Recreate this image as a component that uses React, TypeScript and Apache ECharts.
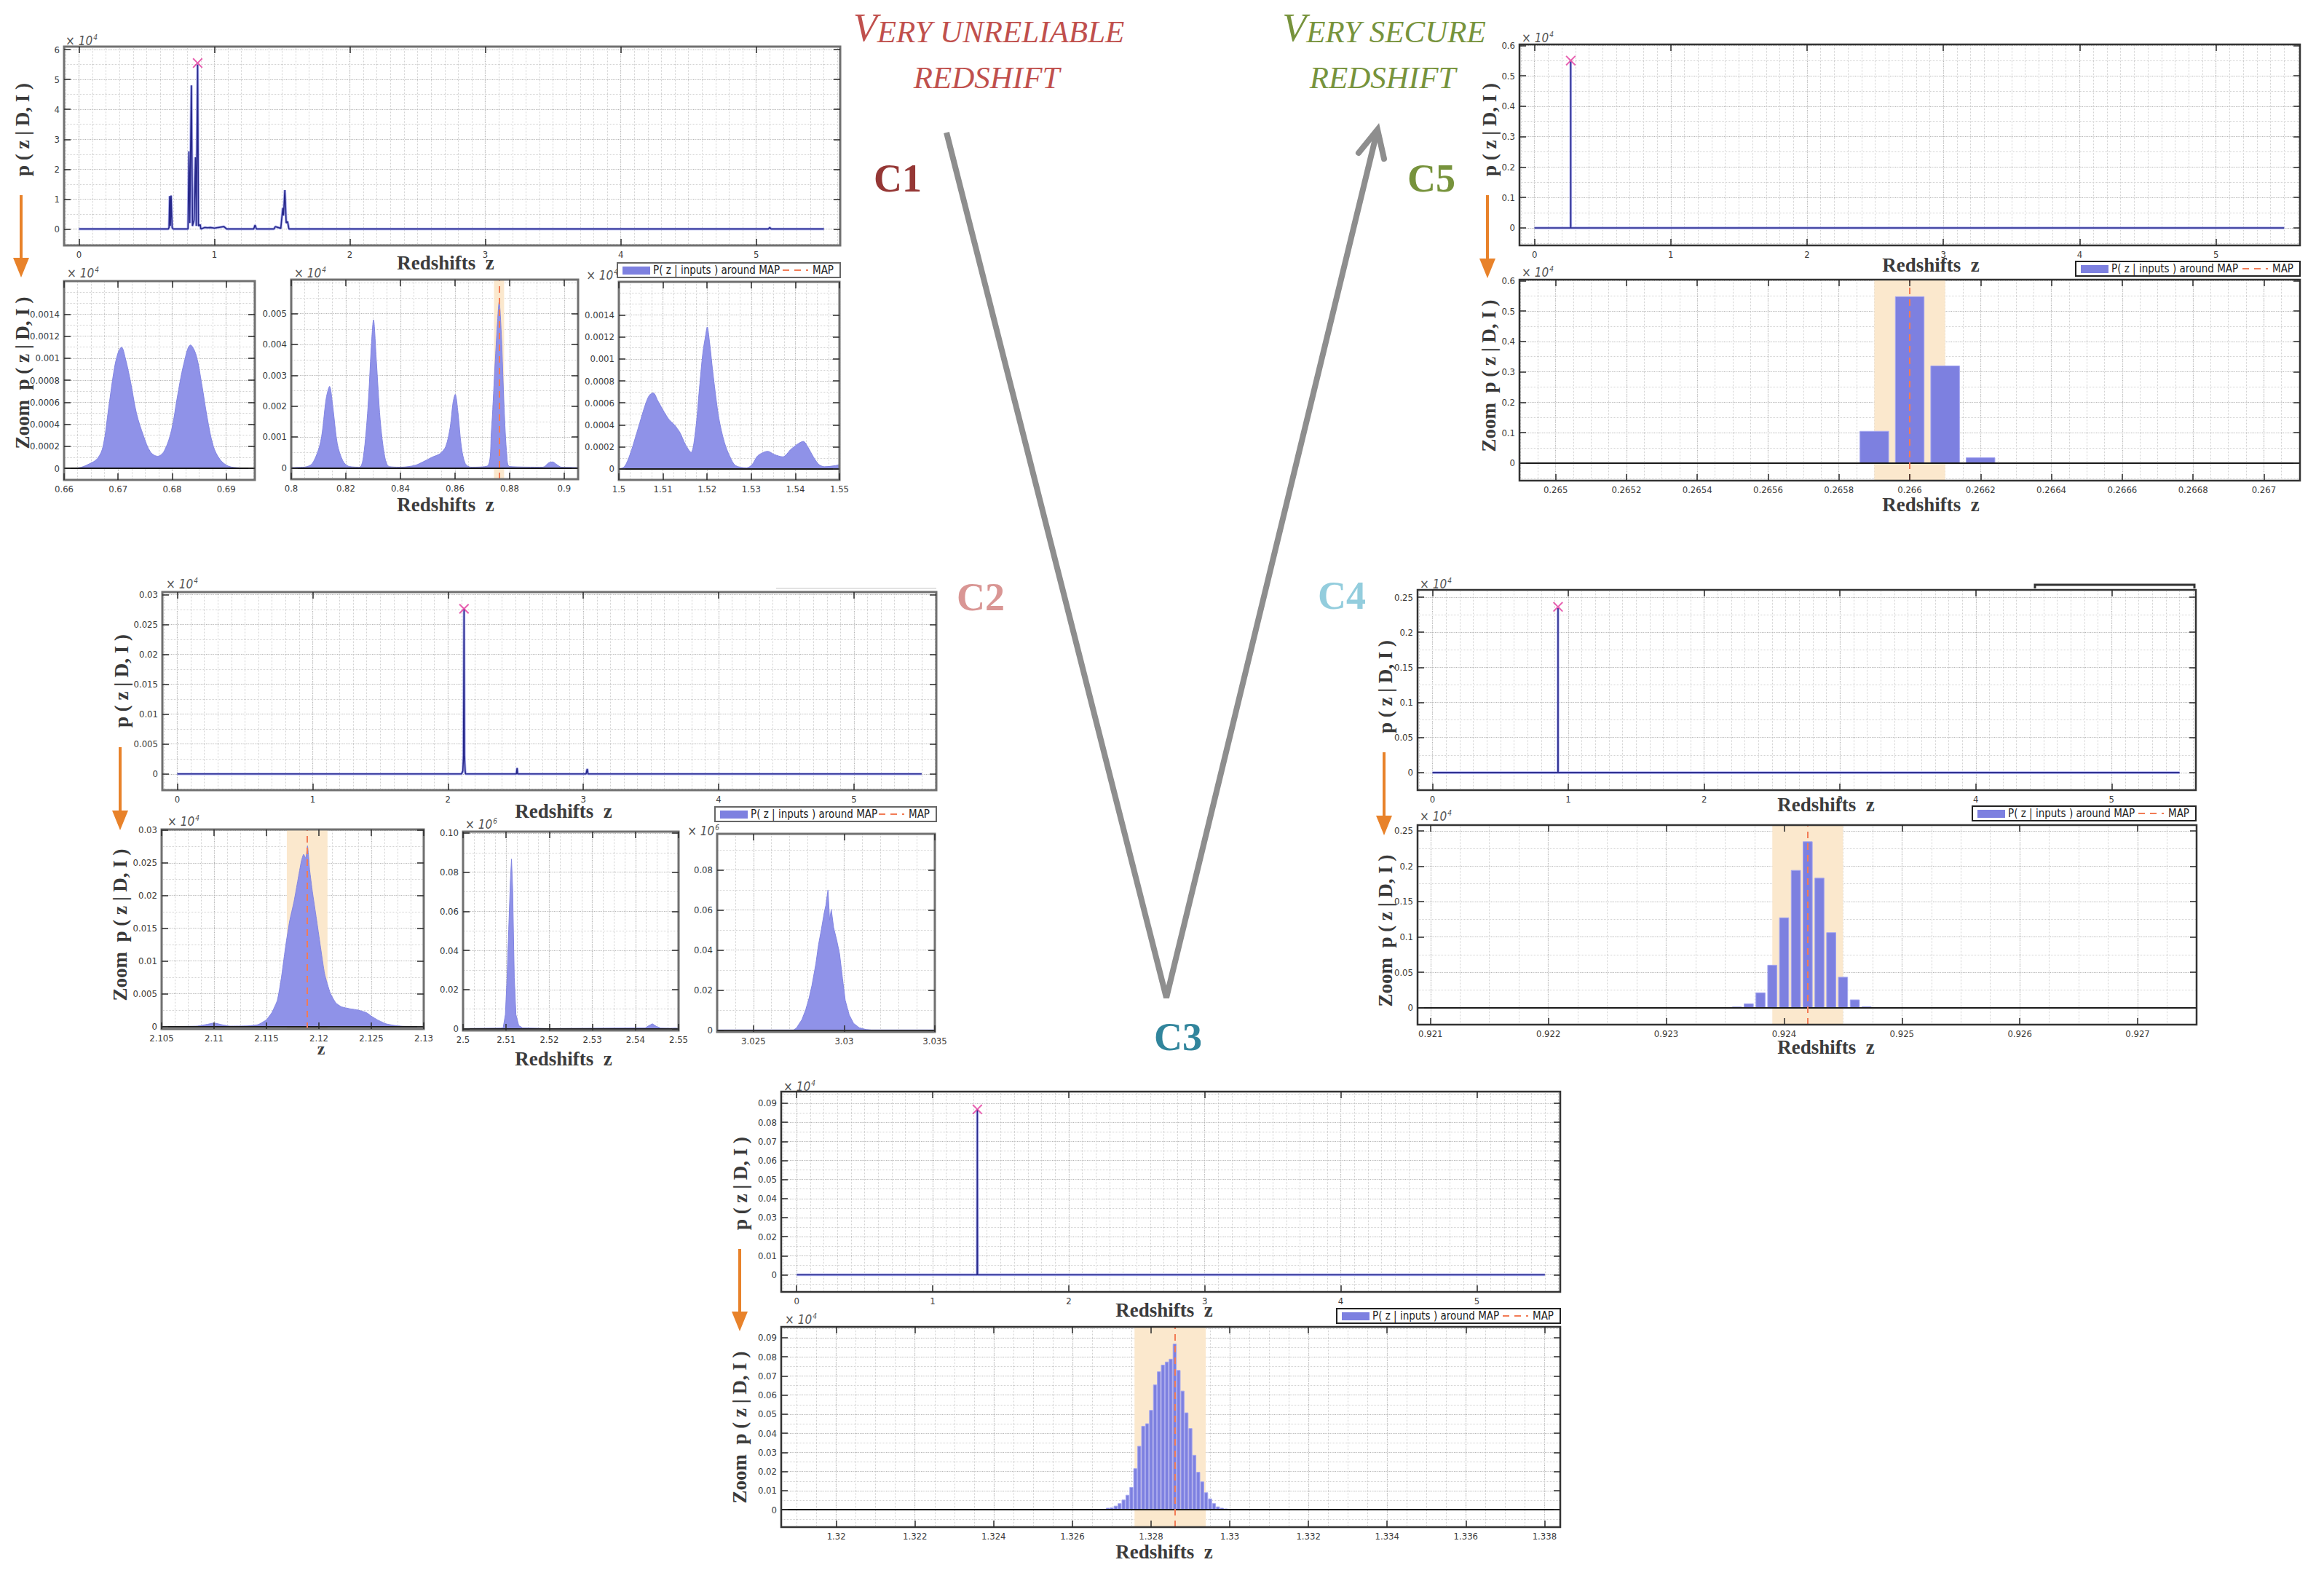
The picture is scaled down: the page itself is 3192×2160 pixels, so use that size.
import React, { useEffect, useRef } from 'react';
import * as echarts from 'echarts';

const TICK_FONT = "'Liberation Sans Narrow', 'DejaVu Sans Condensed', 'Roboto Condensed', 'Liberation Sans', sans-serif";
const SERIF = "'Liberation Serif', 'DejaVu Serif', serif";
const NAVY = '#27288a';
const UNDER = '#adb0f0';
const AREA = '#8f92e8';
const BAR = '#7d80e0';
const BAND = '#fbe8cd';
const MAPC = '#f27b55';
const ORANGE = '#e8822a';
const X_MARK = 'path://M1,0L5,4L9,0L10,1L6,5L10,9L9,10L5,6L1,10L0,9L4,5L0,1Z';

// ---------------- data (p in units of 10^4 unless noted) ----------------
const mainTicks = [0, 1, 2, 3, 4, 5];

// C1
const c1MainZ = [0, 0.66, 0.665, 0.67, 0.675, 0.68, 0.688, 0.695, 0.805, 0.812, 0.818, 0.83, 0.838, 0.85, 0.86, 0.866, 0.876, 0.882, 0.895, 0.9, 0.93, 0.95, 0.97, 1.0, 1.07, 1.09, 1.29, 1.3, 1.31, 1.44, 1.45, 1.47, 1.49, 1.505, 1.51, 1.52, 1.53, 1.54, 1.55, 5.09, 5.1, 5.11, 5.5];
const c1MainP = [0, 0, 0.05, 1.1, 0.1, 1.12, 0.05, 0, 0, 2.6, 0.2, 4.8, 0.1, 0.3, 2.4, 0.1, 5.5, 0.1, 0.15, 0, 0.05, 0.04, 0.05, 0.03, 0.08, 0, 0, 0.13, 0, 0, 0.08, 0.05, 0.02, 0.7, 0.45, 1.3, 0.2, 0.25, 0, 0, 0.05, 0, 0];
const c1Map = [0.876, 5.55];
const c1MainYTicks = [0, 1, 2, 3, 4, 5, 6];

const c1aZ = [0.66, 0.66258, 0.66464, 0.66619, 0.66722, 0.66825, 0.66928, 0.67, 0.67062, 0.67134, 0.67237, 0.6734, 0.67474, 0.67598, 0.67732, 0.67856, 0.6799, 0.68093, 0.68216, 0.6834, 0.68443, 0.68546, 0.68649, 0.68763, 0.68887, 0.69041, 0.69247, 0.6953];
const c1aP = [0.000003, 0.000005, 0.00004, 0.00009, 0.0002, 0.00055, 0.0009, 0.00105, 0.0011, 0.001, 0.00077, 0.0005, 0.00029, 0.00015, 0.00011, 0.00016, 0.00035, 0.00064, 0.00095, 0.00112, 0.00103, 0.00077, 0.00046, 0.0002, 0.00008, 0.00002, 0.000005, 0.000002];
const c1aXTicks = [0.66, 0.67, 0.68, 0.69];
const c1acYTicks = [0, 0.0002, 0.0004, 0.0006, 0.0008, 0.001, 0.0012, 0.0014];

const c1bZ = [0.8, 0.80468, 0.80774, 0.81079, 0.81283, 0.81405, 0.81527, 0.8169, 0.81894, 0.82098, 0.82505, 0.82648, 0.82811, 0.82933, 0.83014, 0.83116, 0.83259, 0.83422, 0.83585, 0.84033, 0.84542, 0.84847, 0.85153, 0.85458, 0.85662, 0.85825, 0.85927, 0.86008, 0.8611, 0.86232, 0.86375, 0.86578, 0.87189, 0.87332, 0.87454, 0.87556, 0.87617, 0.87699, 0.878, 0.87902, 0.88004, 0.89226, 0.8943, 0.89572, 0.89735, 0.89898, 0.90509];
const c1bP = [0.00001, 0.00002, 0.00014, 0.00085, 0.00226, 0.00264, 0.00195, 0.00077, 0.00022, 0.00005, 0.00002, 0.00038, 0.00195, 0.00392, 0.0048, 0.00352, 0.00156, 0.00038, 0.00004, 0.00002, 0.00008, 0.0002, 0.00034, 0.00046, 0.00069, 0.00132, 0.00211, 0.00238, 0.00179, 0.00069, 0.00014, 0.00002, 0.00006, 0.00116, 0.00313, 0.0047, 0.00537, 0.00431, 0.00195, 0.00038, 0.00004, 0.00002, 0.00016, 0.00019, 0.0001, 0.00002, 0.00001];
const c1bXTicks = [0.8, 0.82, 0.84, 0.86, 0.88, 0.9];
const c1bYTicks = [0, 0.001, 0.002, 0.003, 0.004, 0.005];
const c1bBand = [0.8743, 0.878];
const c1bMap = 0.8762;

const c1cZ = [1.5, 1.50126, 1.50252, 1.50378, 1.50504, 1.50605, 1.50693, 1.50781, 1.50882, 1.51008, 1.51134, 1.5126, 1.51385, 1.51511, 1.51637, 1.51738, 1.51826, 1.51902, 1.51965, 1.52003, 1.52053, 1.52141, 1.52267, 1.52393, 1.52519, 1.52645, 1.52897, 1.53023, 1.53149, 1.53375, 1.53526, 1.53715, 1.53904, 1.54068, 1.54181, 1.54282, 1.54408, 1.54534, 1.5466, 1.54912, 1.55];
const c1cP = [0, 0.00002, 0.00013, 0.00029, 0.00046, 0.00059, 0.00067, 0.00069, 0.00062, 0.00053, 0.00045, 0.0004, 0.00033, 0.00022, 0.00015, 0.00035, 0.00073, 0.00105, 0.00121, 0.00129, 0.00116, 0.00084, 0.00046, 0.00024, 0.00011, 0.00003, 0.00001, 0.00004, 0.00012, 0.00016, 0.00013, 0.00011, 0.00018, 0.00023, 0.00025, 0.0002, 0.00011, 0.00004, 0.00002, 0.00003, 0.00004];
const c1cXTicks = [1.5, 1.51, 1.52, 1.53, 1.54, 1.55];

// C5
const c5MainZ = [0, 0.2657, 0.2659, 0.266, 0.2661, 0.2662, 0.2664, 5.5];
const c5MainP = [0, 0, 0.105, 0.547, 0.32, 0.018, 0, 0];
const c5Map = [0.266, 0.55];
const c5YTicks = [0, 0.1, 0.2, 0.3, 0.4, 0.5, 0.6];
const c5zZ = [0.2658, 0.2659, 0.266, 0.2661, 0.2662];
const c5zP = [0.0008, 0.1046, 0.547, 0.3195, 0.0176];
const c5zXTicks = [0.265, 0.2652, 0.2654, 0.2656, 0.2658, 0.266, 0.2662, 0.2664, 0.2666, 0.2668, 0.267];
const c5zBand = [0.2659, 0.2661];
const c5zMap = 0.266;

// C2
const c2MainZ = [0, 2.1, 2.11, 2.115, 2.119, 2.122, 2.127, 2.13, 2.505, 2.511, 2.515, 3.02, 3.029, 3.035, 5.5];
const c2MainP = [0, 0, 0.0005, 0.003, 0.0276, 0.003, 0.0005, 0, 0, 0.001, 0, 0, 0.00085, 0, 0];
const c2Map = [2.119, 0.0276];
const c2YTicks = [0, 0.005, 0.01, 0.015, 0.02, 0.025, 0.03];
const c2aZ = [2.105, 2.10834, 2.10941, 2.10999, 2.11073, 2.11153, 2.11312, 2.11418, 2.11498, 2.11551, 2.11604, 2.11641, 2.11684, 2.11721, 2.11763, 2.118, 2.11832, 2.11854, 2.11875, 2.11891, 2.11912, 2.11938, 2.11976, 2.12013, 2.12055, 2.12108, 2.12161, 2.12214, 2.12294, 2.12374, 2.12453, 2.12506, 2.12559, 2.12639, 2.12719, 2.12798, 2.13];
const c2aP = [0, 0.00004, 0.00033, 0.00052, 0.00026, 0.00004, 0.00007, 0.00026, 0.001, 0.0021, 0.004, 0.0073, 0.0124, 0.0161, 0.0191, 0.0224, 0.0252, 0.0263, 0.0257, 0.0276, 0.0239, 0.0206, 0.0165, 0.0124, 0.008, 0.0051, 0.0036, 0.003, 0.0027, 0.0025, 0.0021, 0.0015, 0.001, 0.0004, 0.00015, 0.00002, 0];
const c2aXTicks = [2.105, 2.11, 2.115, 2.12, 2.125, 2.13];
const c2aBand = [2.11694, 2.12082];
const c2aMap = 2.1189;
// (units of 10^6)
const c2bZ = [2.5, 2.50866, 2.5093, 2.50982, 2.51021, 2.51059, 2.51098, 2.51124, 2.5115, 2.51189, 2.51227, 2.51292, 2.51382, 2.51964, 2.54225, 2.54315, 2.54393, 2.54483, 2.54587, 2.54806, 2.54935, 2.55];
const c2bP = [0.0001, 0.0003, 0.0004, 0.0072, 0.026, 0.0507, 0.0755, 0.0867, 0.0718, 0.026, 0.0072, 0.0016, 0.0004, 0.0001, 0.0004, 0.0016, 0.0025, 0.0012, 0.0003, 0.0002, 0.0003, 0.0002];
const c2bXTicks = [2.5, 2.51, 2.52, 2.53, 2.54, 2.55];
const c2bYTicks = [0, 0.02, 0.04, 0.06, 0.08, 0.1];
const c2bYLabels = ['0', '0.02', '0.04', '0.06', '0.08', '0.10'];
const c2cZ = [3.023, 3.02721, 3.02736, 3.02767, 3.02788, 3.02807, 3.02822, 3.02844, 3.02859, 3.02874, 3.0289, 3.02899, 3.02911, 3.0292, 3.02929, 3.02942, 3.0296, 3.02975, 3.02991, 3.03006, 3.03028, 3.03052, 3.03083, 3.0312, 3.0315, 3.035];
const c2cP = [0, 0, 0.0008, 0.0051, 0.01, 0.016, 0.022, 0.033, 0.0427, 0.05, 0.0585, 0.0622, 0.07, 0.0549, 0.0603, 0.0512, 0.0445, 0.0379, 0.0257, 0.0148, 0.0075, 0.0033, 0.0011, 0.0002, 0, 0];
const c2cXTicks = [3.025, 3.03, 3.035];
const c2cYTicks = [0, 0.02, 0.04, 0.06, 0.08];

// C4
const c4MainZ = [0, 0.9235, 0.924, 0.9242, 0.9244, 0.9248, 5.5];
const c4MainP = [0, 0, 0.128, 0.2345, 0.107, 0, 0];
const c4Map = [0.9242, 0.2362];
const c4YTicks = [0, 0.05, 0.1, 0.15, 0.2, 0.25];
const c4zZ = [0.9236, 0.9237, 0.9238, 0.9239, 0.924, 0.9241, 0.9242, 0.9243, 0.9244, 0.9245, 0.9246, 0.9247];
const c4zP = [0.001, 0.0055, 0.021, 0.06, 0.127, 0.194, 0.2345, 0.183, 0.106, 0.043, 0.011, 0.0014];
const c4zXTicks = [0.921, 0.922, 0.923, 0.924, 0.925, 0.926, 0.927];
const c4zBand = [0.9239, 0.9245];
const c4zMap = 0.9242;

// C3
const c3MainZ = [0, 1.3268, 1.328, 1.3286, 1.329, 1.3301, 5.5];
const c3MainP = [0, 0, 0.052, 0.0867, 0.0507, 0, 0];
const c3Map = [1.3286, 0.0868];
const c3YTicks = [0, 0.01, 0.02, 0.03, 0.04, 0.05, 0.06, 0.07, 0.08, 0.09];
const c3zZ = [1.3269, 1.327, 1.3271, 1.3272, 1.3273, 1.3274, 1.3275, 1.3276, 1.3277, 1.3278, 1.3279, 1.328, 1.3281, 1.3282, 1.3283, 1.3284, 1.3285, 1.3286, 1.3287, 1.3288, 1.3289, 1.329, 1.3291, 1.3292, 1.3293, 1.3294, 1.3295, 1.3296, 1.3297, 1.3298, 1.3299, 1.33];
const c3zP = [0.0008, 0.001, 0.0019, 0.0032, 0.0051, 0.0076, 0.0117, 0.0215, 0.0332, 0.0437, 0.045, 0.052, 0.0653, 0.0722, 0.0757, 0.0773, 0.0788, 0.0867, 0.0729, 0.0621, 0.0507, 0.0425, 0.0285, 0.0196, 0.0146, 0.0089, 0.0057, 0.0032, 0.0015, 0.0008, 0.0004, 0.0001];
const c3zXTicks = [1.32, 1.322, 1.324, 1.326, 1.328, 1.33, 1.332, 1.334, 1.336, 1.338];
const c3zBand = [1.32758, 1.32939];
const c3zMap = 1.3286;

// ---------------- panel layout ----------------
type Panel = {
  box: number[]; xr: number[]; yr: number[]; xt: number[]; yt: number[]; xm: number; ym: number;
  yl?: string[]; frame: string; fw: number; kind: 'main' | 'area' | 'bars';
  z: number[]; p: number[]; bin?: number; smooth?: number; mark?: number[]; band?: number[]; map?: number;
};
const F1 = '#707070';
const F2 = '#333333';
const PANELS: Panel[] = [
  { box: [88, 64, 1154, 337], xr: [-0.11, 5.62], yr: [-0.55, 6.1], xt: mainTicks, yt: c1MainYTicks, xm: 0.1, ym: 0.5, frame: F1, fw: 3, kind: 'main', z: c1MainZ, p: c1MainP, mark: c1Map },
  { box: [88, 386, 350, 659], xr: [0.66, 0.6953], yr: [-0.000105, 0.0017], xt: c1aXTicks, yt: c1acYTicks, xm: 0.0025, ym: 0.0001, frame: F1, fw: 3, kind: 'area', z: c1aZ, p: c1aP, smooth: 0.35 },
  { box: [400, 384, 794, 658], xr: [0.8, 0.9051], yr: [-0.00037, 0.0061], xt: c1bXTicks, yt: c1bYTicks, xm: 0.005, ym: 0.0005, frame: F1, fw: 3, kind: 'area', z: c1bZ, p: c1bP, smooth: 0.3, band: c1bBand, map: c1bMap },
  { box: [850, 387, 1153, 659], xr: [1.5, 1.55], yr: [-0.0001, 0.0017], xt: c1cXTicks, yt: c1acYTicks, xm: 0.0025, ym: 0.0001, frame: F1, fw: 3, kind: 'area', z: c1cZ, p: c1cP, smooth: 0.3 },
  { box: [2087, 61, 3159, 337], xr: [-0.11, 5.616], yr: [-0.0575, 0.603], xt: mainTicks, yt: c5YTicks, xm: 0.1, ym: 0.05, frame: F2, fw: 2.5, kind: 'main', z: c5MainZ, p: c5MainP, mark: c5Map },
  { box: [2087, 384, 3159, 660], xr: [0.264898, 0.267102], yr: [-0.0575, 0.603], xt: c5zXTicks, yt: c5YTicks, xm: 0.00005, ym: 0.05, frame: F2, fw: 2.5, kind: 'bars', z: c5zZ, p: c5zP, bin: 0.000081, band: c5zBand, map: c5zMap },
  { box: [223, 813, 1286, 1085], xr: [-0.11, 5.608], yr: [-0.0027, 0.0304], xt: mainTicks, yt: c2YTicks, xm: 0.1, ym: 0.0025, frame: F1, fw: 3, kind: 'main', z: c2MainZ, p: c2MainP, mark: c2Map },
  { box: [222, 1139, 582, 1413], xr: [2.105, 2.13], yr: [-0.0004, 0.0301], xt: c2aXTicks, yt: c2YTicks, xm: 0.00125, ym: 0.0025, frame: F1, fw: 3, kind: 'area', z: c2aZ, p: c2aP, smooth: 0.15, band: c2aBand, map: c2aMap },
  { box: [636, 1142, 932, 1415], xr: [2.5, 2.55], yr: [-0.0009, 0.1007], xt: c2bXTicks, yt: c2bYTicks, yl: c2bYLabels, xm: 0.0025, ym: 0.01, frame: F1, fw: 3, kind: 'area', z: c2bZ, p: c2bP },
  { box: [985, 1145, 1284, 1417], xr: [3.023, 3.035], yr: [-0.001, 0.098], xt: c2cXTicks, yt: c2cYTicks, xm: 0.001, ym: 0.01, frame: F1, fw: 3, kind: 'area', z: c2cZ, p: c2cP },
  { box: [1947, 810, 3016, 1085], xr: [-0.11, 5.62], yr: [-0.025, 0.2604], xt: mainTicks, yt: c4YTicks, xm: 0.1, ym: 0.025, frame: F2, fw: 2.5, kind: 'main', z: c4MainZ, p: c4MainP, mark: c4Map },
  { box: [1947, 1133, 3017, 1407], xr: [0.92089, 0.9275], yr: [-0.024, 0.258], xt: c4zXTicks, yt: c4YTicks, xm: 0.00025, ym: 0.025, frame: F2, fw: 2.5, kind: 'bars', z: c4zZ, p: c4zP, bin: 0.000078, band: c4zBand, map: c4zMap },
  { box: [1073, 1499, 2143, 1774], xr: [-0.113, 5.613], yr: [-0.009, 0.0961], xt: mainTicks, yt: c3YTicks, xm: 0.1, ym: 0.005, frame: F2, fw: 2.5, kind: 'main', z: c3MainZ, p: c3MainP, mark: c3Map },
  { box: [1073, 1822, 2143, 2097], xr: [1.3186, 1.3384], yr: [-0.0091, 0.0957], xt: c3zXTicks, yt: c3YTicks, xm: 0.0005, ym: 0.005, frame: F2, fw: 2.5, kind: 'bars', z: c3zZ, p: c3zP, bin: 0.00008, band: c3zBand, map: c3zMap },
];

function fmt(v: number) { return String(parseFloat(Number(v).toPrecision(10))); }
function labelOf(v: number, vals: number[], labels?: string[]) {
  if (labels) {
    const k = vals.findIndex((t) => Math.abs(t - v) < 1e-9);
    if (k >= 0) return labels[k];
  }
  return fmt(v);
}
function gridSteps(r: number[], step: number) {
  const out: number[] = [];
  const s = Math.ceil(r[0] / step - 1e-6);
  const e = Math.floor(r[1] / step + 1e-6);
  for (let k = s; k <= e; k++) out.push(parseFloat((k * step).toPrecision(12)));
  return out;
}

const MAJOR = { type: 'dotted', color: '#b6b6b6', width: 1.2 };
const MINOR = { type: 'dotted', color: '#d2d2d2', width: 1 };
const ML = { silent: true, precision: 12, symbol: ['none', 'none'], label: { show: false }, emphasis: { disabled: true } };

function buildOption() {
  const grid: any[] = [];
  const xAxis: any[] = [];
  const yAxis: any[] = [];
  const series: any[] = [];
  PANELS.forEach((p, i) => {
    const [l, t, r, b] = p.box;
    grid.push({ left: l, top: t, width: r - l, height: b - t, show: true, borderColor: p.frame, borderWidth: p.fw, backgroundColor: 'transparent', z: 10 });
    const tick = (vals: number[]) => ({ show: true, inside: true, length: 9, customValues: vals, lineStyle: { color: '#2a2a2a', width: 1.5 } });
    const lab = (vals: number[], labels: string[] | undefined, show: boolean) => ({
      show, customValues: vals, formatter: (v: number) => labelOf(v, vals, labels),
      color: '#3a3a3a', fontSize: 13, fontFamily: TICK_FONT, margin: 6,
    });
    const base = { type: 'value', gridIndex: i, z: 11, axisLine: { show: false, onZero: false }, splitLine: { show: false }, minorTick: { show: false } };
    xAxis.push({ ...base, position: 'bottom', min: p.xr[0], max: p.xr[1], axisTick: tick(p.xt), axisLabel: lab(p.xt, undefined, true) });
    xAxis.push({ ...base, position: 'top', min: p.xr[0], max: p.xr[1], axisTick: tick(p.xt), axisLabel: { show: false } });
    yAxis.push({ ...base, position: 'left', min: p.yr[0], max: p.yr[1], axisTick: tick(p.yt), axisLabel: lab(p.yt, p.yl, true) });
    yAxis.push({ ...base, position: 'right', min: p.yr[0], max: p.yr[1], axisTick: tick(p.yt), axisLabel: { show: false } });
    const xi = 2 * i;
    const yi = 2 * i;
    const axes = { xAxisIndex: xi, yAxisIndex: yi };

    // grid lines
    const gl: any[] = [];
    p.xt.forEach((v) => gl.push({ xAxis: v, lineStyle: MAJOR }));
    gridSteps(p.xr, p.xm).filter((v) => !p.xt.some((q) => Math.abs(q - v) < p.xm * 0.01)).forEach((v) => gl.push({ xAxis: v, lineStyle: MINOR }));
    p.yt.forEach((v) => gl.push({ yAxis: v, lineStyle: MAJOR }));
    gridSteps(p.yr, p.ym).filter((v) => !p.yt.some((q) => Math.abs(q - v) < p.ym * 0.01)).forEach((v) => gl.push({ yAxis: v, lineStyle: MINOR }));
    series.push({ type: 'line', ...axes, data: [], silent: true, markLine: { ...ML, z: 1, data: gl } });

    if (p.band) {
      series.push({ type: 'line', ...axes, data: [], silent: true, markArea: { silent: true, z: 2, itemStyle: { color: BAND }, emphasis: { disabled: true }, data: [[{ xAxis: p.band[0] }, { xAxis: p.band[1] }]] } });
    }

    const pts = p.z.map((z, k) => [z, p.p[k]]);
    if (p.kind === 'main') {
      series.push({ type: 'line', ...axes, z: 3, data: pts, showSymbol: false, silent: true, lineStyle: { color: UNDER, width: 3.5 } });
      series.push({ type: 'line', ...axes, z: 4, data: pts, showSymbol: false, silent: true, lineStyle: { color: NAVY, width: 1.6 } });
    } else if (p.kind === 'area') {
      series.push({ type: 'line', ...axes, z: 3, data: pts, showSymbol: false, silent: true, smooth: p.smooth || false, lineStyle: { color: '#8285e2', width: 1 }, areaStyle: { color: AREA, opacity: 1 } });
    } else {
      const hw = (p.bin || 0.00008) / 2;
      series.push({
        type: 'custom', ...axes, z: 3, data: pts, silent: true, clip: true,
        renderItem: (_params: any, api: any) => {
          const x = api.value(0);
          const y = api.value(1);
          const a = api.coord([x - hw, y]);
          const c = api.coord([x + hw, 0]);
          return { type: 'rect', shape: { x: a[0], y: a[1], width: c[0] - a[0], height: c[1] - a[1] }, style: { fill: BAR, stroke: '#a4a6f0', lineWidth: 1 } };
        },
      });
    }
    if (p.kind !== 'main') {
      series.push({ type: 'line', ...axes, data: [], silent: true, markLine: { ...ML, z: 4, data: [{ yAxis: 0, lineStyle: { type: 'solid', color: '#1a1a1a', width: 2 } }] } });
    }
    if (p.map != null) {
      series.push({ type: 'line', ...axes, data: [], silent: true, markLine: { ...ML, z: 5, data: [{ xAxis: p.map, lineStyle: { type: [9, 7], color: MAPC, width: 2 } }] } });
    }
    if (p.mark) {
      series.push({ type: 'scatter', ...axes, z: 6, silent: true, data: [p.mark], symbol: X_MARK, symbolSize: 14, itemStyle: { color: '#e2389c' } });
    }
  });

  // ---------------- decorations ----------------
  const g: any[] = [];
  const redshiftPos = [[612, 361], [612, 693], [2652, 364], [2652, 693], [774, 1114], [774, 1454], [2508, 1105], [2508, 1438], [1599, 1799], [1599, 2131]];
  redshiftPos.forEach(([x, y]) => g.push({ type: 'text', x, y, style: { text: 'Redshifts  z', fontFamily: SERIF, fontWeight: 'bold', fontSize: 27, fill: '#3c3c3c', align: 'center', verticalAlign: 'middle' } }));
  g.push({ type: 'text', x: 441, y: 1440, style: { text: 'z', fontFamily: SERIF, fontWeight: 'bold', fontSize: 24, fill: '#3c3c3c', align: 'center', verticalAlign: 'middle' } });

  const yMain = [[31, 178], [2046, 178], [167, 935], [1903, 943], [1017, 1625]];
  const yZoom = [[31, 512], [2045, 516], [165, 1270], [1903, 1278], [1016, 1960]];
  yMain.forEach(([x, y]) => g.push({ type: 'text', x, y, rotation: Math.PI / 2, style: { text: 'p ( z | D, I )', fontFamily: SERIF, fontWeight: 'bold', fontSize: 27, fill: '#3a3a3a', align: 'center', verticalAlign: 'middle' } }));
  yZoom.forEach(([x, y]) => g.push({ type: 'text', x, y, rotation: Math.PI / 2, style: { text: 'Zoom  p ( z | D, I )', fontFamily: SERIF, fontWeight: 'bold', fontSize: 27, fill: '#3a3a3a', align: 'center', verticalAlign: 'middle' } }));

  const exps: any[] = [[90, 55, '4', 'left'], [92, 374, '4', 'left'], [404, 374, '4', 'left'], [849, 377, '4', 'right'], [2090, 51, '4', 'left'], [2090, 373, '4', 'left'], [228, 801, '4', 'left'], [230, 1127, '4', 'left'], [639, 1131, '6', 'left'], [988, 1140, '6', 'right'], [1950, 801, '4', 'left'], [1950, 1120, '4', 'left'], [1076, 1491, '4', 'left'], [1078, 1811, '4', 'left']];
  exps.forEach(([x, y, e, al]) => g.push({
    type: 'text', x, y, style: {
      text: '{a|× 10}{b|' + e + '}', align: al, verticalAlign: 'middle',
      rich: { a: { fontSize: 17, fontStyle: 'italic', fontFamily: TICK_FONT, fill: '#555', verticalAlign: 'bottom' }, b: { fontSize: 10, fontStyle: 'italic', fontFamily: TICK_FONT, fill: '#555', verticalAlign: 'top', padding: [0, 0, 8, 1] } },
    },
  }));

  const cl: any[] = [['C1', 1233, 245, '#953735'], ['C5', 1966, 245, '#77933c'], ['C2', 1347, 820, '#d99694'], ['C4', 1843, 818, '#93cddd'], ['C3', 1618, 1424, '#31859c']];
  cl.forEach(([t, x, y, c]) => g.push({ type: 'text', x, y, style: { text: t, fontFamily: SERIF, fontWeight: 'bold', fontSize: 54, fill: c, align: 'center', verticalAlign: 'middle' } }));

  const RED = '#c0504d';
  const GREEN = '#77933c';
  const title = (x: number, y: number, big: string, small: string, color: string) => g.push({
    type: 'text', x, y, style: {
      text: (big ? '{a|' + big + '}' : '') + '{b|' + small + '}', align: 'center', verticalAlign: 'bottom',
      rich: { a: { fontSize: 54, fontStyle: 'italic', fontFamily: SERIF, fill: color, verticalAlign: 'bottom' }, b: { fontSize: 43, fontStyle: 'italic', fontFamily: SERIF, fill: color, verticalAlign: 'bottom' } },
    },
  });
  title(1358, 65, 'V', 'ERY UNRELIABLE', RED);
  title(1355, 128, '', 'REDSHIFT', RED);
  title(1901, 65, 'V', 'ERY SECURE', GREEN);
  title(1899, 128, '', 'REDSHIFT', GREEN);

  // V-shaped grey arrow
  g.push({ type: 'polyline', shape: { points: [[1300, 182], [1602, 1370], [1892, 178]] }, style: { stroke: '#8e8e8e', lineWidth: 8, fill: null, lineJoin: 'miter' } });
  g.push({ type: 'polyline', shape: { points: [[1866, 210], [1892, 178], [1901, 218]] }, style: { stroke: '#8e8e8e', lineWidth: 8, fill: null, lineJoin: 'miter', lineCap: 'round' } });

  // orange arrows
  const oa = [[29, 268, 381], [2043, 268, 382], [165, 1026, 1140], [1901, 1033, 1147], [1016, 1715, 1828]];
  oa.forEach(([x, y1, y2]) => {
    g.push({ type: 'line', shape: { x1: x, y1, x2: x, y2: y2 - 20 }, style: { stroke: ORANGE, lineWidth: 4 } });
    g.push({ type: 'polygon', shape: { points: [[x - 11, y2 - 27], [x + 11, y2 - 27], [x, y2]] }, style: { fill: ORANGE } });
  });

  // legends
  const legends = [[848, 361, 306, 20, '#666'], [2851, 359, 308, 20, '#222'], [982, 1108, 304, 20, '#666'], [2709, 1107, 307, 20, '#222'], [1836, 1797, 307, 20, '#222']];
  legends.forEach(([x, y, w, h, c]: any) => {
    g.push({ type: 'rect', shape: { x, y, width: w, height: h }, style: { fill: '#fff', stroke: c, lineWidth: 2 } });
    g.push({ type: 'rect', shape: { x: x + 7, y: y + 5, width: 38, height: h - 9 }, style: { fill: BAR } });
    g.push({ type: 'text', x: x + 49, y: y + h / 2, style: { text: 'P( z | inputs ) around MAP', fontFamily: TICK_FONT, fontSize: 15, fill: '#222', align: 'left', verticalAlign: 'middle' } });
    g.push({ type: 'line', shape: { x1: x + w - 79, y1: y + h / 2, x2: x + w - 44, y2: y + h / 2 }, style: { stroke: MAPC, lineWidth: 2, lineDash: [9, 7] } });
    g.push({ type: 'text', x: x + w - 38, y: y + h / 2, style: { text: 'MAP', fontFamily: TICK_FONT, fontSize: 15, fill: '#222', align: 'left', verticalAlign: 'middle' } });
  });

  g.push({ type: 'polyline', shape: { points: [[2795, 808], [2795, 803], [3014, 803], [3014, 808]] }, style: { stroke: '#333', lineWidth: 3, fill: null } });
  g.push({ type: 'line', shape: { x1: 1066, y1: 808, x2: 1286, y2: 808 }, style: { stroke: '#e2e2e2', lineWidth: 2 } });

  return {
    animation: false,
    backgroundColor: '#ffffff',
    grid, xAxis, yAxis, series,
    graphic: { elements: g },
  };
}

export default function App() {
  const ref = useRef<HTMLDivElement>(null);
  useEffect(() => {
    if (!ref.current) return;
    const chart = echarts.init(ref.current, null, { renderer: 'svg' });
    chart.setOption(buildOption() as any);
    return () => chart.dispose();
  }, []);
  return <div ref={ref} style={{ position: 'fixed', left: 0, top: 0, width: 3192, height: 2160, background: '#fff' }} />;
}
